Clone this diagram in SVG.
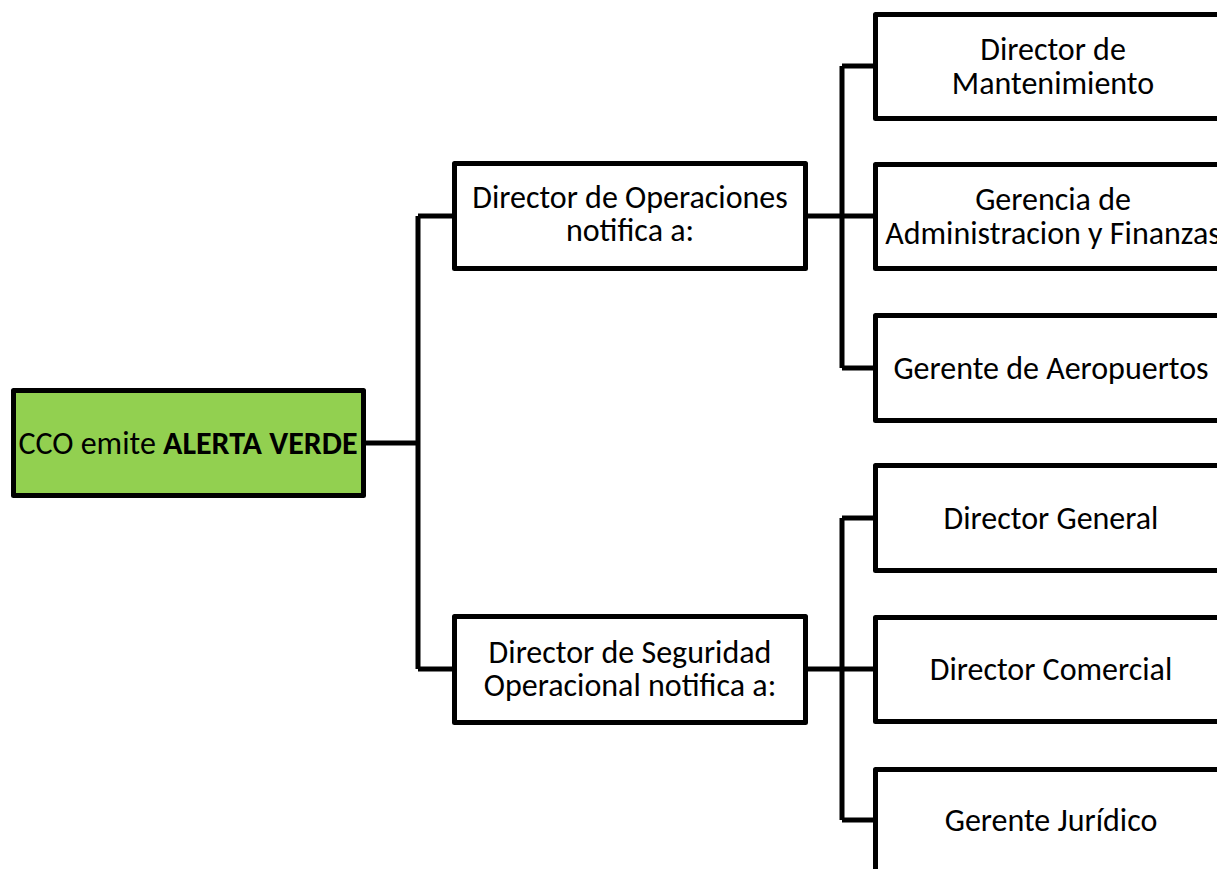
<svg xmlns="http://www.w3.org/2000/svg" width="1217" height="869" viewBox="0 0 1217 869">
<style>
.box{fill:#fff;stroke:#000;stroke-width:5;stroke-linejoin:round}
.root{fill:#92D050;stroke:#000;stroke-width:5;stroke-linejoin:round}
.con{fill:none;stroke:#000;stroke-width:5;stroke-linejoin:round}
text{font-family:Carlito,Calibri,Lato,"Liberation Sans",sans-serif;font-size:32px;fill:#000;text-anchor:middle}
</style>
<rect width="1217" height="869" fill="#fff"/>
<g id="connectors">
<path class="con" d="M366,443 H418 M418,216 V669 M418,216 H454 M418,669 H454"/>
<path class="con" d="M808,216 H842 M842,66 V368 M842,66 H875 M842,216 H875 M842,368 H875"/>
<path class="con" d="M808,669 H842 M842,518 V820 M842,518 H875 M842,669 H875 M842,820 H875"/>
</g>
<g id="root">
<rect class="root" x="13.5" y="390.5" width="350" height="105"/>
<text x="188" y="454">CCO emite <tspan font-weight="bold">ALERTA VERDE</tspan></text>
</g>
<g id="dir-operaciones">
<rect class="box" x="454.5" y="163.5" width="351" height="105"/>
<text x="630" y="208">Director de Operaciones</text>
<text x="630" y="241">notifica a:</text>
</g>
<g id="dir-seguridad">
<rect class="box" x="454.5" y="616.5" width="351" height="106"/>
<text x="630" y="663">Director de Seguridad</text>
<text x="630" y="696">Operacional notifica a:</text>
</g>
<g id="dir-mantenimiento">
<rect class="box" x="875.5" y="14.5" width="352" height="104"/>
<text x="1053" y="60">Director de</text>
<text x="1053" y="94">Mantenimiento</text>
</g>
<g id="ger-admin">
<rect class="box" x="875.5" y="164.5" width="352" height="104"/>
<text x="1053" y="210">Gerencia de</text>
<text x="1053" y="244">Administracion y Finanzas</text>
</g>
<g id="ger-aeropuertos">
<rect class="box" x="875.5" y="315.5" width="352" height="105"/>
<text x="1051" y="379">Gerente de Aeropuertos</text>
</g>
<g id="dir-general">
<rect class="box" x="875.5" y="465.5" width="352" height="105"/>
<text x="1051" y="529">Director General</text>
</g>
<g id="dir-comercial">
<rect class="box" x="875.5" y="617.5" width="352" height="104"/>
<text x="1051" y="680">Director Comercial</text>
</g>
<g id="ger-juridico">
<rect class="box" x="875.5" y="769.5" width="352" height="110"/>
<text x="1051" y="831">Gerente Jurídico</text>
</g>
</svg>
